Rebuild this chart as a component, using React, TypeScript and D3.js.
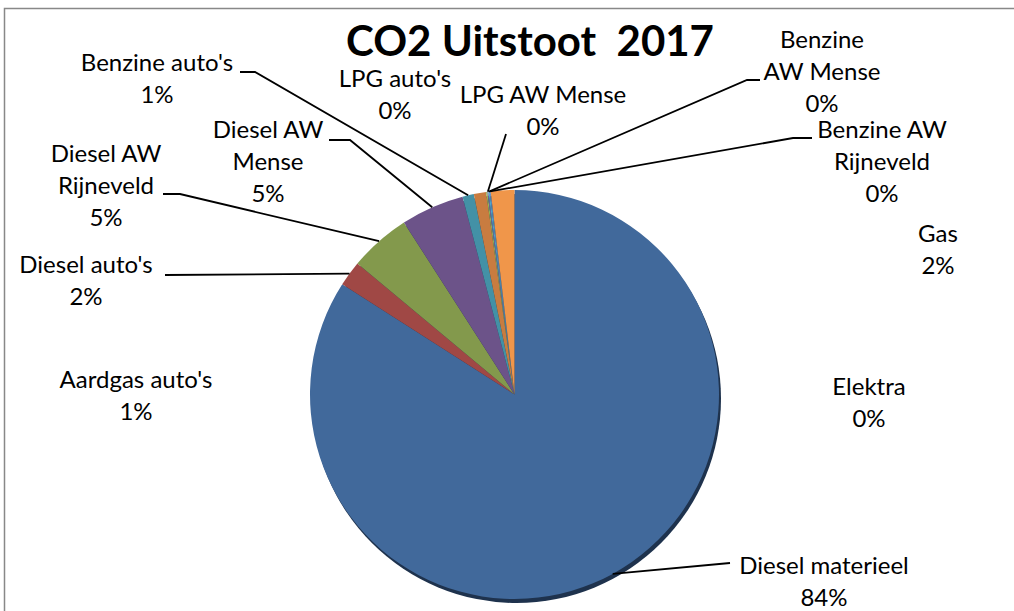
import * as d3 from "d3";

// slices in clockwise order from 12 o'clock
const categories = [
  "Diesel materieel",
  "Diesel auto's",
  "Diesel AW Rijneveld",
  "Diesel AW Mense",
  "Benzine auto's",
  "Aardgas auto's",
  "LPG auto's",
  "LPG AW Mense",
  "Benzine AW Mense",
  "Benzine AW Rijneveld",
  "Elektra",
  "Gas",
];
const values = [84.05, 2.0, 4.85, 5.0, 0.9, 0.97, 0.1, 0.08, 0.1, 0.08, 0.0, 1.86];
const colors = [
  "#41699b", "#a04845", "#83994c", "#6c5389", "#4391a6", "#c87c40",
  "#93b556", "#7a64a6", "#4fa8c9", "#5b8fc6", "#b0b0b0", "#f0964a",
];
// how each label text is wrapped
const labelLines = [
  ["Diesel materieel"],
  ["Diesel auto's"],
  ["Diesel AW", "Rijneveld"],
  ["Diesel AW", "Mense"],
  ["Benzine auto's"],
  ["Aardgas auto's"],
  ["LPG auto's"],
  ["LPG AW Mense"],
  ["Benzine", "AW Mense"],
  ["Benzine AW", "Rijneveld"],
  ["Elektra"],
  ["Gas"],
];

// label layout: centre x, first baseline y
const labelPos: [number, number][] = [
  [824, 574], [86, 273], [106, 162], [268, 138], [157, 71], [136, 388],
  [395, 87], [543, 103], [822, 48], [882, 138], [869, 395], [938, 242],
];
// leader line start (and elbow) on the label side
const leaders: ([number, number][] | null)[] = [
  [[730, 563]],
  [[165, 275]],
  [[163, 194], [180, 194]],
  [[329, 140], [350, 140]],
  [[240, 72], [255, 72]],
  null,
  null,
  [[506, 134]],
  [[760, 80], [747, 80]],
  [[812, 138], [793, 138]],
  null,
  null,
];

const W = 1014;
const H = 611;
const cx = 514.5;
const cy = 394.5;
const R = 204.5;
const FONT = "Lato, 'Open Sans', sans-serif";
const LINE = 32;

export default function App() {
  const total = d3.sum(values);
  const pie = d3.pie<number>().sort(null).value((d) => d);
  const arcs = pie(values);
  const arc = d3.arc<d3.PieArcDatum<number>>().innerRadius(0).outerRadius(R);
  const edge = d3.arc<d3.PieArcDatum<number>>().innerRadius(R).outerRadius(R);
  const line = d3.line();

  return (
    <svg width={W} height={H} style={{ position: "absolute", left: 0, top: 0, background: "white" }}>
      <rect x={4.5} y={8.5} width={W + 10} height={H + 10} fill="white" stroke="#888" strokeWidth={1.5} />
      <text
        x={530}
        y={56}
        textAnchor="middle"
        fontFamily={FONT}
        fontWeight="bold"
        fontSize={42}
        style={{ whiteSpace: "pre" }}
      >
        {"CO2 Uitstoot  2017"}
      </text>

      <g transform={`translate(${cx},${cy})`}>
        <circle cx={2} cy={4} r={R} fill="#1e324d" />
        {arcs.map((d, i) => (
          <path key={i} d={arc(d) || ""} fill={colors[i]} />
        ))}
      </g>

      {arcs.map((d, i) => {
        const pts = leaders[i];
        if (!pts) return null;
        const [ex, ey] = edge.centroid(d);
        const all: [number, number][] = [...pts, [ex + cx, ey + cy]];
        return <path key={i} d={line(all) || ""} fill="none" stroke="black" strokeWidth={1.8} />;
      })}

      {categories.map((c, i) => {
        const [x, y] = labelPos[i];
        const pct = Math.round((values[i] / total) * 100) + "%";
        const lines = [...labelLines[i], pct];
        return (
          <text key={c} x={x} y={y} textAnchor="middle" fontFamily={FONT} fontSize={24} fill="black">
            {lines.map((t, j) => (
              <tspan key={j} x={x} y={y + j * LINE}>
                {t}
              </tspan>
            ))}
          </text>
        );
      })}
    </svg>
  );
}
